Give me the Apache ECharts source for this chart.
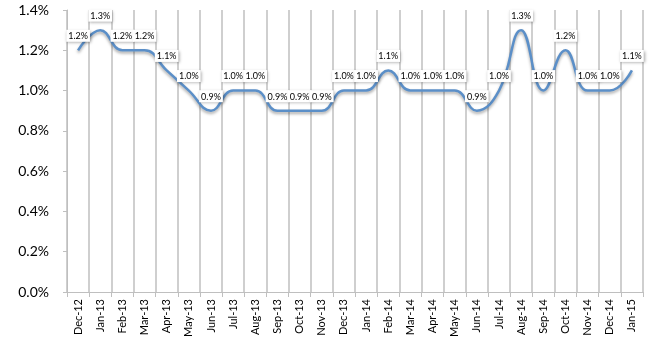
<!DOCTYPE html>
<html>
<head>
<meta charset="utf-8">
<script src="https://cdn.jsdelivr.net/npm/echarts@6/dist/echarts.min.js"></script>
<style>
  html, body { margin: 0; padding: 0; background: #ffffff; }
  #chart { width: 650px; height: 350px; }
</style>
</head>
<body>
<div id="chart"></div>
<script>
// Monthly rate, percent
const months = [
  'Dec-12', 'Jan-13', 'Feb-13', 'Mar-13', 'Apr-13', 'May-13', 'Jun-13',
  'Jul-13', 'Aug-13', 'Sep-13', 'Oct-13', 'Nov-13', 'Dec-13', 'Jan-14',
  'Feb-14', 'Mar-14', 'Apr-14', 'May-14', 'Jun-14', 'Jul-14', 'Aug-14',
  'Sep-14', 'Oct-14', 'Nov-14', 'Dec-14', 'Jan-15'
];
const rates = [
  1.2, 1.3, 1.2, 1.2, 1.1, 1.0, 0.9,
  1.0, 1.0, 0.9, 0.9, 0.9, 1.0, 1.0,
  1.1, 1.0, 1.0, 1.0, 0.9, 1.0, 1.3,
  1.0, 1.2, 1.0, 1.0, 1.1
];
const yTicks = [0, 0.2, 0.4, 0.6, 0.8, 1.0, 1.2, 1.4];

const font = 'Lato, "Open Sans", sans-serif';
const chart = echarts.init(document.getElementById('chart'), null, { renderer: 'canvas' });

chart.setOption({
  animation: false,
  backgroundColor: '#ffffff',
  grid: { left: 67, right: 7, top: 10, bottom: 58 },
  xAxis: {
    type: 'category',
    data: months,
    boundaryGap: true,
    axisLine: { show: true, lineStyle: { color: '#bfbfbf', width: 1 } },
    axisTick: { show: true, interval: 0, length: 5, lineStyle: { color: '#bfbfbf', width: 1 } },
    splitLine: { show: true, interval: 0, lineStyle: { color: '#cfcfcf', width: 2 } },
    axisLabel: {
      interval: 0, rotate: 90, margin: 7,
      fontFamily: font, fontSize: 11, color: '#000000'
    }
  },
  yAxis: {
    type: 'value',
    min: yTicks[0],
    max: yTicks[yTicks.length - 1],
    interval: 0.2,
    axisLine: { show: true, lineStyle: { color: '#bfbfbf', width: 1 } },
    axisTick: { show: true, length: 4, lineStyle: { color: '#bfbfbf' } },
    splitLine: { show: false },
    axisLabel: {
      margin: 18,
      fontFamily: font, fontSize: 14, color: '#000000',
      formatter: v => v.toFixed(1) + '%'
    }
  },
  series: [{
    type: 'line',
    data: rates,
    smooth: 0.45,
    symbol: 'circle',
    symbolSize: 1,
    showSymbol: true,
    itemStyle: { color: 'rgba(0,0,0,0)' },
    lineStyle: {
      color: '#5b8fc8', width: 2.5,
      shadowColor: 'rgba(0,0,0,0.35)', shadowBlur: 3, shadowOffsetY: 2
    },
    label: {
      show: true,
      position: 'top',
      distance: 8,
      formatter: p => p.value.toFixed(1) + '%',
      fontFamily: font, fontSize: 9, color: '#000000',
      backgroundColor: '#ffffff',
      padding: [2, 2, 1, 2],
      shadowColor: 'rgba(0,0,0,0.35)', shadowBlur: 3, shadowOffsetX: 1, shadowOffsetY: 1
    }
  }]
});
</script>
</body>
</html>
